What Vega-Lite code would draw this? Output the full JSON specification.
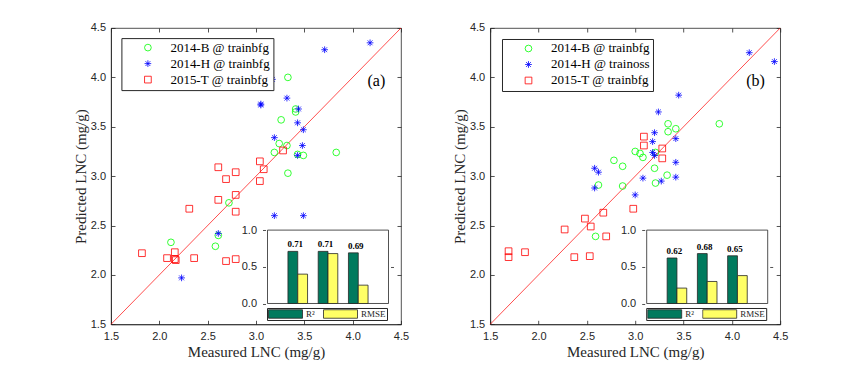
{
  "$schema": "https://vega.github.io/schema/vega-lite/v6.json",
  "background": "white",
  "padding": {"left": 72, "top": 21, "right": 5, "bottom": 5},
  "bounds": "flush",
  "spacing": 89.2,
  "config": {
    "view": {"stroke": "#262626", "strokeWidth": 0.8},
    "axis": {"grid": false, "labelFlush": false, "labelFont": "Liberation Sans", "labelFontSize": 11, "labelColor": "#262626", "domainColor": "#262626", "tickColor": "#262626", "titleFont": "Liberation Serif", "titleFontSize": 15, "titleFontWeight": "normal", "titleColor": "#262626", "domainWidth": 0.8, "tickWidth": 0.8},
    "text": {"font": "Liberation Serif"}
  },
  "resolve": {"scale": {"color": "independent", "shape": "independent", "fill": "independent"}},
  "datasets": {
    "a_pts": [
      {"measured": 2.12, "predicted": 2.33, "series": "2014-B @ trainbfg"},
      {"measured": 2.58, "predicted": 2.29, "series": "2014-B @ trainbfg"},
      {"measured": 2.61, "predicted": 2.40, "series": "2014-B @ trainbfg"},
      {"measured": 2.72, "predicted": 2.73, "series": "2014-B @ trainbfg"},
      {"measured": 3.33, "predicted": 4.00, "series": "2014-B @ trainbfg"},
      {"measured": 3.41, "predicted": 3.68, "series": "2014-B @ trainbfg"},
      {"measured": 3.41, "predicted": 3.65, "series": "2014-B @ trainbfg"},
      {"measured": 3.26, "predicted": 3.57, "series": "2014-B @ trainbfg"},
      {"measured": 3.24, "predicted": 3.33, "series": "2014-B @ trainbfg"},
      {"measured": 3.32, "predicted": 3.31, "series": "2014-B @ trainbfg"},
      {"measured": 3.19, "predicted": 3.24, "series": "2014-B @ trainbfg"},
      {"measured": 3.43, "predicted": 3.22, "series": "2014-B @ trainbfg"},
      {"measured": 3.49, "predicted": 3.21, "series": "2014-B @ trainbfg"},
      {"measured": 3.83, "predicted": 3.24, "series": "2014-B @ trainbfg"},
      {"measured": 3.33, "predicted": 3.03, "series": "2014-B @ trainbfg"},
      {"measured": 4.18, "predicted": 4.35, "series": "2014-H @ trainbfg"},
      {"measured": 3.71, "predicted": 4.28, "series": "2014-H @ trainbfg"},
      {"measured": 3.17, "predicted": 3.98, "series": "2014-H @ trainbfg"},
      {"measured": 3.05, "predicted": 3.72, "series": "2014-H @ trainbfg"},
      {"measured": 3.05, "predicted": 3.73, "series": "2014-H @ trainbfg"},
      {"measured": 3.32, "predicted": 3.79, "series": "2014-H @ trainbfg"},
      {"measured": 3.44, "predicted": 3.68, "series": "2014-H @ trainbfg"},
      {"measured": 3.43, "predicted": 3.54, "series": "2014-H @ trainbfg"},
      {"measured": 3.49, "predicted": 3.47, "series": "2014-H @ trainbfg"},
      {"measured": 3.19, "predicted": 3.39, "series": "2014-H @ trainbfg"},
      {"measured": 3.48, "predicted": 3.31, "series": "2014-H @ trainbfg"},
      {"measured": 3.43, "predicted": 3.21, "series": "2014-H @ trainbfg"},
      {"measured": 3.19, "predicted": 2.60, "series": "2014-H @ trainbfg"},
      {"measured": 3.49, "predicted": 2.60, "series": "2014-H @ trainbfg"},
      {"measured": 2.61, "predicted": 2.42, "series": "2014-H @ trainbfg"},
      {"measured": 2.23, "predicted": 1.97, "series": "2014-H @ trainbfg"},
      {"measured": 1.82, "predicted": 2.22, "series": "2015-T @ trainbfg"},
      {"measured": 2.08, "predicted": 2.17, "series": "2015-T @ trainbfg"},
      {"measured": 2.16, "predicted": 2.23, "series": "2015-T @ trainbfg"},
      {"measured": 2.16, "predicted": 2.16, "series": "2015-T @ trainbfg"},
      {"measured": 2.17, "predicted": 2.15, "series": "2015-T @ trainbfg"},
      {"measured": 2.36, "predicted": 2.17, "series": "2015-T @ trainbfg"},
      {"measured": 2.31, "predicted": 2.67, "series": "2015-T @ trainbfg"},
      {"measured": 2.61, "predicted": 3.09, "series": "2015-T @ trainbfg"},
      {"measured": 2.61, "predicted": 2.76, "series": "2015-T @ trainbfg"},
      {"measured": 2.69, "predicted": 2.97, "series": "2015-T @ trainbfg"},
      {"measured": 2.79, "predicted": 3.04, "series": "2015-T @ trainbfg"},
      {"measured": 2.79, "predicted": 2.81, "series": "2015-T @ trainbfg"},
      {"measured": 2.79, "predicted": 2.64, "series": "2015-T @ trainbfg"},
      {"measured": 2.69, "predicted": 2.14, "series": "2015-T @ trainbfg"},
      {"measured": 2.79, "predicted": 2.16, "series": "2015-T @ trainbfg"},
      {"measured": 3.04, "predicted": 3.15, "series": "2015-T @ trainbfg"},
      {"measured": 3.08, "predicted": 3.07, "series": "2015-T @ trainbfg"},
      {"measured": 3.04, "predicted": 2.95, "series": "2015-T @ trainbfg"},
      {"measured": 3.28, "predicted": 3.26, "series": "2015-T @ trainbfg"}
    ],
    "b_pts": [
      {"measured": 3.34, "predicted": 3.53, "series": "2014-B @ trainbfg"},
      {"measured": 3.34, "predicted": 3.45, "series": "2014-B @ trainbfg"},
      {"measured": 3.42, "predicted": 3.48, "series": "2014-B @ trainbfg"},
      {"measured": 3.87, "predicted": 3.53, "series": "2014-B @ trainbfg"},
      {"measured": 3.00, "predicted": 3.25, "series": "2014-B @ trainbfg"},
      {"measured": 3.05, "predicted": 3.23, "series": "2014-B @ trainbfg"},
      {"measured": 3.08, "predicted": 3.19, "series": "2014-B @ trainbfg"},
      {"measured": 3.21, "predicted": 3.24, "series": "2014-B @ trainbfg"},
      {"measured": 2.78, "predicted": 3.16, "series": "2014-B @ trainbfg"},
      {"measured": 2.87, "predicted": 3.10, "series": "2014-B @ trainbfg"},
      {"measured": 3.20, "predicted": 3.08, "series": "2014-B @ trainbfg"},
      {"measured": 3.33, "predicted": 3.01, "series": "2014-B @ trainbfg"},
      {"measured": 3.21, "predicted": 2.93, "series": "2014-B @ trainbfg"},
      {"measured": 2.62, "predicted": 2.91, "series": "2014-B @ trainbfg"},
      {"measured": 2.87, "predicted": 2.90, "series": "2014-B @ trainbfg"},
      {"measured": 2.59, "predicted": 2.39, "series": "2014-B @ trainbfg"},
      {"measured": 4.18, "predicted": 4.25, "series": "2014-H @ trainoss"},
      {"measured": 4.44, "predicted": 4.16, "series": "2014-H @ trainoss"},
      {"measured": 3.45, "predicted": 3.82, "series": "2014-H @ trainoss"},
      {"measured": 3.24, "predicted": 3.65, "series": "2014-H @ trainoss"},
      {"measured": 3.20, "predicted": 3.44, "series": "2014-H @ trainoss"},
      {"measured": 3.18, "predicted": 3.35, "series": "2014-H @ trainoss"},
      {"measured": 3.42, "predicted": 3.38, "series": "2014-H @ trainoss"},
      {"measured": 3.18, "predicted": 3.24, "series": "2014-H @ trainoss"},
      {"measured": 3.20, "predicted": 3.21, "series": "2014-H @ trainoss"},
      {"measured": 3.42, "predicted": 3.14, "series": "2014-H @ trainoss"},
      {"measured": 3.42, "predicted": 2.99, "series": "2014-H @ trainoss"},
      {"measured": 3.27, "predicted": 2.95, "series": "2014-H @ trainoss"},
      {"measured": 3.08, "predicted": 2.98, "series": "2014-H @ trainoss"},
      {"measured": 3.00, "predicted": 2.81, "series": "2014-H @ trainoss"},
      {"measured": 2.58, "predicted": 3.08, "series": "2014-H @ trainoss"},
      {"measured": 2.62, "predicted": 3.04, "series": "2014-H @ trainoss"},
      {"measured": 2.58, "predicted": 2.88, "series": "2014-H @ trainoss"},
      {"measured": 1.69, "predicted": 2.24, "series": "2015-T @ trainbfg"},
      {"measured": 1.69, "predicted": 2.18, "series": "2015-T @ trainbfg"},
      {"measured": 1.86, "predicted": 2.23, "series": "2015-T @ trainbfg"},
      {"measured": 2.27, "predicted": 2.46, "series": "2015-T @ trainbfg"},
      {"measured": 2.37, "predicted": 2.18, "series": "2015-T @ trainbfg"},
      {"measured": 2.53, "predicted": 2.19, "series": "2015-T @ trainbfg"},
      {"measured": 2.48, "predicted": 2.57, "series": "2015-T @ trainbfg"},
      {"measured": 2.54, "predicted": 2.49, "series": "2015-T @ trainbfg"},
      {"measured": 2.67, "predicted": 2.63, "series": "2015-T @ trainbfg"},
      {"measured": 2.70, "predicted": 2.39, "series": "2015-T @ trainbfg"},
      {"measured": 2.98, "predicted": 2.67, "series": "2015-T @ trainbfg"},
      {"measured": 3.09, "predicted": 3.40, "series": "2015-T @ trainbfg"},
      {"measured": 3.09, "predicted": 3.31, "series": "2015-T @ trainbfg"},
      {"measured": 3.28, "predicted": 3.28, "series": "2015-T @ trainbfg"},
      {"measured": 3.28, "predicted": 3.18, "series": "2015-T @ trainbfg"}
    ],
    "a_bars": [
      {"group": 1, "metric": "R²", "value": 0.71},
      {"group": 1, "metric": "RMSE", "value": 0.40},
      {"group": 2, "metric": "R²", "value": 0.71},
      {"group": 2, "metric": "RMSE", "value": 0.68},
      {"group": 3, "metric": "R²", "value": 0.69},
      {"group": 3, "metric": "RMSE", "value": 0.25}
    ],
    "b_bars": [
      {"group": 1, "metric": "R²", "value": 0.62},
      {"group": 1, "metric": "RMSE", "value": 0.21},
      {"group": 2, "metric": "R²", "value": 0.68},
      {"group": 2, "metric": "RMSE", "value": 0.30},
      {"group": 3, "metric": "R²", "value": 0.65},
      {"group": 3, "metric": "RMSE", "value": 0.38}
    ]
  },
  "hconcat": [
    {
      "width": 290, "height": 296.3,
      "resolve": {"scale": {"x": "independent", "y": "independent"}, "axis": {"x": "independent", "y": "independent"}},
      "layer": [
        {
          "resolve": {"axis": {"x": "independent", "y": "independent"}},
          "layer": [
            {
              "data": {"values": [{}]},
              "mark": {"type": "rule", "color": "#FF0000", "strokeWidth": 0.7},
              "encoding": {
                "x": {"datum": 1.5, "type": "quantitative", "scale": {"domain": [1.5, 4.5], "nice": false, "zero": false}, "axis": {"orient": "bottom", "values": [1.5, 2, 2.5, 3, 3.5, 4, 4.5], "format": ".1f", "title": "Measured LNC (mg/g)", "tickSize": -4, "labelPadding": 10, "titlePadding": 3}},
                "y": {"datum": 1.5, "type": "quantitative", "scale": {"domain": [1.5, 4.5], "nice": false, "zero": false}, "axis": {"orient": "left", "values": [1.5, 2, 2.5, 3, 3.5, 4, 4.5], "format": ".1f", "title": "Predicted LNC (mg/g)", "tickSize": -4, "labelPadding": 9.5, "titlePadding": 2}},
                "x2": {"datum": 4.5},
                "y2": {"datum": 4.5}
              }
            },
            {
              "data": {"name": "a_pts"},
              "mark": {"type": "point", "filled": false, "size": 45, "strokeWidth": 0.8, "opacity": 1},
              "encoding": {
                "x": {"field": "measured", "type": "quantitative", "axis": {"orient": "top", "values": [1.5, 2, 2.5, 3, 3.5, 4, 4.5], "labels": false, "domain": false, "title": null, "tickSize": -4}},
                "y": {"field": "predicted", "type": "quantitative", "axis": {"orient": "right", "values": [1.5, 2, 2.5, 3, 3.5, 4, 4.5], "labels": false, "domain": false, "title": null, "tickSize": -4}},
                "color": {"field": "series", "type": "nominal", "scale": {"domain": ["2014-B @ trainbfg", "2014-H @ trainbfg", "2015-T @ trainbfg"], "range": ["#00FF00", "#0000FF", "#FF0000"]},
                  "legend": {"orient": "none", "legendX": 10.4, "legendY": 10.1, "title": null, "padding": 3, "symbolOffset": 17, "labelOffset": 16, "rowPadding": 2, "labelFont": "Liberation Serif", "labelFontSize": 13, "labelColor": "#000000", "strokeColor": "#262626", "fillColor": "white", "symbolSize": 45, "symbolStrokeWidth": 0.8}},
                "shape": {"field": "series", "type": "nominal", "scale": {"domain": ["2014-B @ trainbfg", "2014-H @ trainbfg", "2015-T @ trainbfg"], "range": ["circle", "M-1,0L1,0M0,-1L0,1M-0.72,-0.72L0.72,0.72M-0.72,0.72L0.72,-0.72", "square"]},
                  "legend": {"orient": "none", "legendX": 10.4, "legendY": 10.1, "title": null, "padding": 3, "symbolOffset": 17, "labelOffset": 16, "rowPadding": 2, "labelFont": "Liberation Serif", "labelFontSize": 13, "labelColor": "#000000", "strokeColor": "#262626", "fillColor": "white", "symbolSize": 45, "symbolStrokeWidth": 0.8}}
              }
            },
            {
              "data": {"values": [{"tag": "(a)"}]},
              "mark": {"type": "text", "fontSize": 16, "font": "Liberation Serif", "color": "#000000"},
              "encoding": {"x": {"datum": 4.245, "type": "quantitative", "axis": null}, "y": {"datum": 3.965, "type": "quantitative", "axis": null}, "text": {"field": "tag"}}
            }
          ]
        },
        {
          "data": {"name": "a_bars"},
          "resolve": {"axis": {"y": "independent"}},
          "layer": [
            {
              "data": {"values": [{}]},
              "mark": {"type": "rect", "fill": "white", "stroke": "#262626", "strokeWidth": 0.8},
              "encoding": {
                "x": {"datum": 0, "type": "quantitative", "scale": {"domain": [0, 4], "range": [151.5, 282.5], "nice": false, "zero": false}, "axis": null},
                "x2": {"datum": 4},
                "y": {"datum": 0, "type": "quantitative", "scale": {"domain": [0, 1], "range": [275.5, 202.1], "nice": false}, "axis": {"orient": "left", "offset": -151.5, "values": [0, 0.5, 1], "format": ".1f", "domain": false, "tickSize": -3, "labelPadding": 9, "title": null, "zindex": 2}},
                "y2": {"datum": 1}
              }
            },
            {
              "transform": [{"filter": "datum.metric === 'R²'"}],
              "mark": {"type": "bar", "orient": "vertical", "width": 9.8, "xOffset": -4.9, "stroke": "#262626", "strokeWidth": 0.8},
              "encoding": {
                "x": {"field": "group", "type": "quantitative", "axis": null},
                "y": {"field": "value", "type": "quantitative", "axis": {"orient": "right", "offset": -7.5, "values": [0.5], "labels": false, "domain": false, "tickSize": -3, "title": null, "zindex": 2}},
                "fill": {"field": "metric", "type": "nominal", "scale": {"domain": ["R²", "RMSE"], "range": ["#007A5E", "#FFFF66"]},
                  "legend": {"orient": "none", "legendX": 156, "legendY": 280, "direction": "horizontal", "title": null, "symbolType": "M-1,-0.25H1V0.25H-1Z", "symbolSize": 1156, "clipHeight": 10, "labelFont": "Liberation Serif", "labelFontSize": 9, "labelColor": "#262626", "labelOffset": 3, "columnPadding": 8, "padding": 1, "strokeColor": "#262626", "fillColor": "white", "symbolStrokeColor": "#262626", "symbolStrokeWidth": 0.8, "symbolOpacity": 1}}
              }
            },
            {
              "transform": [{"filter": "datum.metric === 'RMSE'"}],
              "mark": {"type": "bar", "orient": "vertical", "width": 9.8, "xOffset": 4.9, "stroke": "#262626", "strokeWidth": 0.8},
              "encoding": {
                "x": {"field": "group", "type": "quantitative", "axis": null},
                "y": {"field": "value", "type": "quantitative", "axis": null},
                "fill": {"field": "metric", "type": "nominal", "scale": {"domain": ["R²", "RMSE"], "range": ["#007A5E", "#FFFF66"]},
                  "legend": {"orient": "none", "legendX": 156, "legendY": 280, "direction": "horizontal", "title": null, "symbolType": "M-1,-0.25H1V0.25H-1Z", "symbolSize": 1156, "clipHeight": 10, "labelFont": "Liberation Serif", "labelFontSize": 9, "labelColor": "#262626", "labelOffset": 3, "columnPadding": 8, "padding": 1, "strokeColor": "#262626", "fillColor": "white", "symbolStrokeColor": "#262626", "symbolStrokeWidth": 0.8, "symbolOpacity": 1}}
              }
            },
            {
              "transform": [{"filter": "datum.metric === 'R²'"}],
              "mark": {"type": "text", "xOffset": -2.5, "dy": -2, "baseline": "bottom", "fontSize": 9, "fontWeight": "bold", "font": "Liberation Serif", "color": "#000000"},
              "encoding": {
                "x": {"field": "group", "type": "quantitative", "axis": null},
                "y": {"field": "value", "type": "quantitative", "axis": null},
                "text": {"field": "value", "type": "quantitative", "format": ".2f"}
              }
            }
          ]
        }
      ]
    },
    {
      "width": 290, "height": 296.3,
      "resolve": {"scale": {"x": "independent", "y": "independent"}, "axis": {"x": "independent", "y": "independent"}},
      "layer": [
        {
          "resolve": {"axis": {"x": "independent", "y": "independent"}},
          "layer": [
            {
              "data": {"values": [{}]},
              "mark": {"type": "rule", "color": "#FF0000", "strokeWidth": 0.7},
              "encoding": {
                "x": {"datum": 1.5, "type": "quantitative", "scale": {"domain": [1.5, 4.5], "nice": false, "zero": false}, "axis": {"orient": "bottom", "values": [1.5, 2, 2.5, 3, 3.5, 4, 4.5], "format": ".1f", "title": "Measured LNC (mg/g)", "tickSize": -4, "labelPadding": 10, "titlePadding": 3}},
                "y": {"datum": 1.5, "type": "quantitative", "scale": {"domain": [1.5, 4.5], "nice": false, "zero": false}, "axis": {"orient": "left", "values": [1.5, 2, 2.5, 3, 3.5, 4, 4.5], "format": ".1f", "title": "Predicted LNC (mg/g)", "tickSize": -4, "labelPadding": 9.5, "titlePadding": 2}},
                "x2": {"datum": 4.5},
                "y2": {"datum": 4.5}
              }
            },
            {
              "data": {"name": "b_pts"},
              "mark": {"type": "point", "filled": false, "size": 45, "strokeWidth": 0.8, "opacity": 1},
              "encoding": {
                "x": {"field": "measured", "type": "quantitative", "axis": {"orient": "top", "values": [1.5, 2, 2.5, 3, 3.5, 4, 4.5], "labels": false, "domain": false, "title": null, "tickSize": -4}},
                "y": {"field": "predicted", "type": "quantitative", "axis": {"orient": "right", "values": [1.5, 2, 2.5, 3, 3.5, 4, 4.5], "labels": false, "domain": false, "title": null, "tickSize": -4}},
                "color": {"field": "series", "type": "nominal", "scale": {"domain": ["2014-B @ trainbfg", "2014-H @ trainoss", "2015-T @ trainbfg"], "range": ["#00FF00", "#0000FF", "#FF0000"]},
                  "legend": {"orient": "none", "legendX": 11.8, "legendY": 11, "title": null, "padding": 3, "symbolOffset": 17, "labelOffset": 16, "rowPadding": 2, "labelFont": "Liberation Serif", "labelFontSize": 13, "labelColor": "#000000", "strokeColor": "#262626", "fillColor": "white", "symbolSize": 45, "symbolStrokeWidth": 0.8}},
                "shape": {"field": "series", "type": "nominal", "scale": {"domain": ["2014-B @ trainbfg", "2014-H @ trainoss", "2015-T @ trainbfg"], "range": ["circle", "M-1,0L1,0M0,-1L0,1M-0.72,-0.72L0.72,0.72M-0.72,0.72L0.72,-0.72", "square"]},
                  "legend": {"orient": "none", "legendX": 11.8, "legendY": 11, "title": null, "padding": 3, "symbolOffset": 17, "labelOffset": 16, "rowPadding": 2, "labelFont": "Liberation Serif", "labelFontSize": 13, "labelColor": "#000000", "strokeColor": "#262626", "fillColor": "white", "symbolSize": 45, "symbolStrokeWidth": 0.8}}
              }
            },
            {
              "data": {"values": [{"tag": "(b)"}]},
              "mark": {"type": "text", "fontSize": 16, "font": "Liberation Serif", "color": "#000000"},
              "encoding": {"x": {"datum": 4.245, "type": "quantitative", "axis": null}, "y": {"datum": 3.965, "type": "quantitative", "axis": null}, "text": {"field": "tag"}}
            }
          ]
        },
        {
          "data": {"name": "b_bars"},
          "resolve": {"axis": {"y": "independent"}},
          "layer": [
            {
              "data": {"values": [{}]},
              "mark": {"type": "rect", "fill": "white", "stroke": "#262626", "strokeWidth": 0.8},
              "encoding": {
                "x": {"datum": 0, "type": "quantitative", "scale": {"domain": [0, 4], "range": [151.5, 282.5], "nice": false, "zero": false}, "axis": null},
                "x2": {"datum": 4},
                "y": {"datum": 0, "type": "quantitative", "scale": {"domain": [0, 1], "range": [275.5, 202.1], "nice": false}, "axis": {"orient": "left", "offset": -151.5, "values": [0, 0.5, 1], "format": ".1f", "domain": false, "tickSize": -3, "labelPadding": 9, "title": null, "zindex": 2}},
                "y2": {"datum": 1}
              }
            },
            {
              "transform": [{"filter": "datum.metric === 'R²'"}],
              "mark": {"type": "bar", "orient": "vertical", "width": 9.8, "xOffset": -4.9, "stroke": "#262626", "strokeWidth": 0.8},
              "encoding": {
                "x": {"field": "group", "type": "quantitative", "axis": null},
                "y": {"field": "value", "type": "quantitative", "axis": {"orient": "right", "offset": -7.5, "values": [0.5], "labels": false, "domain": false, "tickSize": -3, "title": null, "zindex": 2}},
                "fill": {"field": "metric", "type": "nominal", "scale": {"domain": ["R²", "RMSE"], "range": ["#007A5E", "#FFFF66"]},
                  "legend": {"orient": "none", "legendX": 156, "legendY": 280, "direction": "horizontal", "title": null, "symbolType": "M-1,-0.25H1V0.25H-1Z", "symbolSize": 1156, "clipHeight": 10, "labelFont": "Liberation Serif", "labelFontSize": 9, "labelColor": "#262626", "labelOffset": 3, "columnPadding": 8, "padding": 1, "strokeColor": "#262626", "fillColor": "white", "symbolStrokeColor": "#262626", "symbolStrokeWidth": 0.8, "symbolOpacity": 1}}
              }
            },
            {
              "transform": [{"filter": "datum.metric === 'RMSE'"}],
              "mark": {"type": "bar", "orient": "vertical", "width": 9.8, "xOffset": 4.9, "stroke": "#262626", "strokeWidth": 0.8},
              "encoding": {
                "x": {"field": "group", "type": "quantitative", "axis": null},
                "y": {"field": "value", "type": "quantitative", "axis": null},
                "fill": {"field": "metric", "type": "nominal", "scale": {"domain": ["R²", "RMSE"], "range": ["#007A5E", "#FFFF66"]},
                  "legend": {"orient": "none", "legendX": 156, "legendY": 280, "direction": "horizontal", "title": null, "symbolType": "M-1,-0.25H1V0.25H-1Z", "symbolSize": 1156, "clipHeight": 10, "labelFont": "Liberation Serif", "labelFontSize": 9, "labelColor": "#262626", "labelOffset": 3, "columnPadding": 8, "padding": 1, "strokeColor": "#262626", "fillColor": "white", "symbolStrokeColor": "#262626", "symbolStrokeWidth": 0.8, "symbolOpacity": 1}}
              }
            },
            {
              "transform": [{"filter": "datum.metric === 'R²'"}],
              "mark": {"type": "text", "xOffset": -2.5, "dy": -2, "baseline": "bottom", "fontSize": 9, "fontWeight": "bold", "font": "Liberation Serif", "color": "#000000"},
              "encoding": {
                "x": {"field": "group", "type": "quantitative", "axis": null},
                "y": {"field": "value", "type": "quantitative", "axis": null},
                "text": {"field": "value", "type": "quantitative", "format": ".2f"}
              }
            }
          ]
        }
      ]
    }
  ]
}
